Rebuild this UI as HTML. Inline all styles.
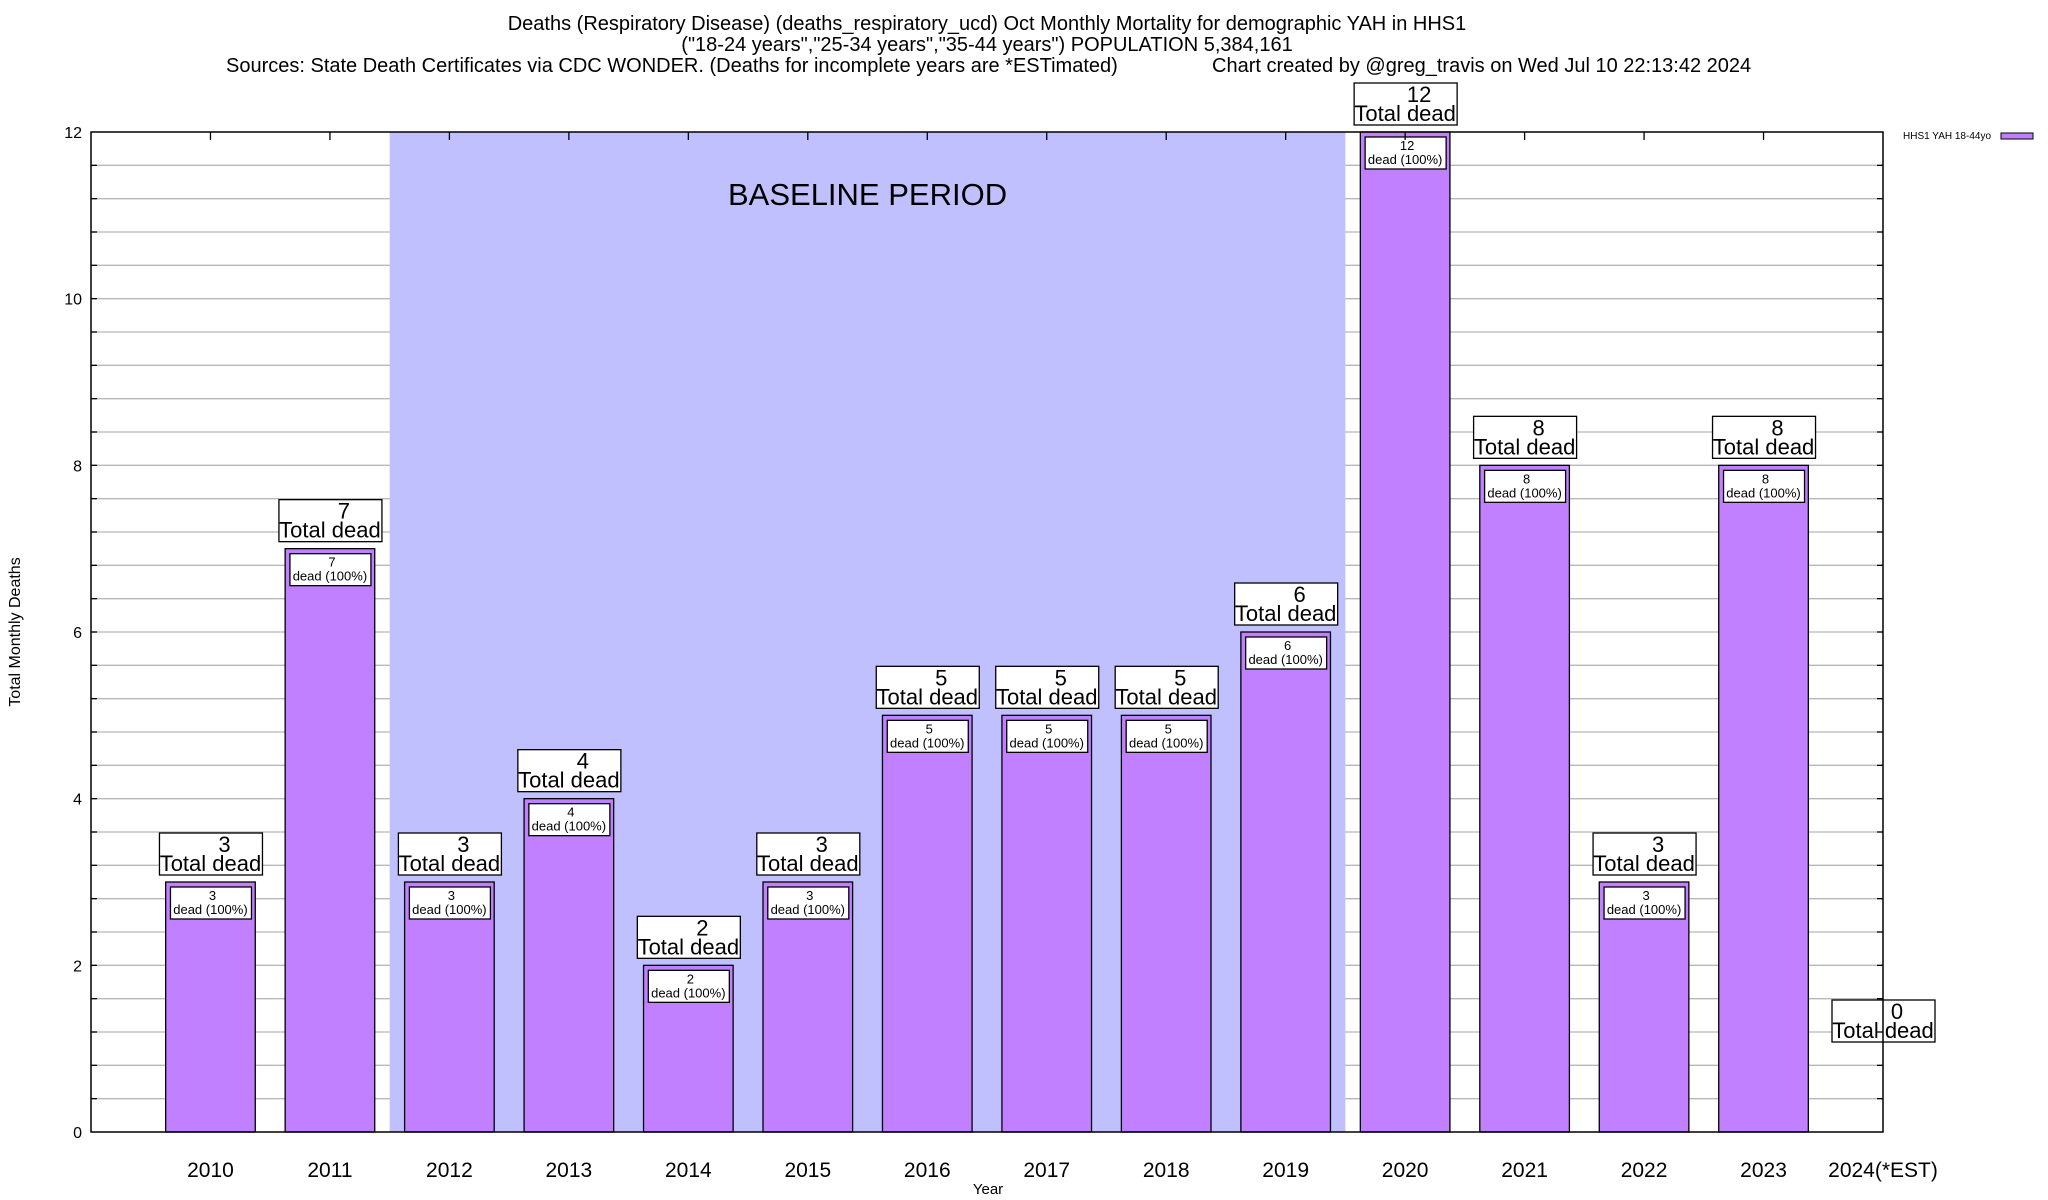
<!DOCTYPE html>
<html><head><meta charset="utf-8"><style>
html,body{margin:0;padding:0;background:#fff}
svg{display:block;font-family:"Liberation Sans",sans-serif}
</style></head><body>
<svg id="chart" width="2048" height="1200" viewBox="0 0 2048 1200" xmlns="http://www.w3.org/2000/svg">
<g font-size="20" text-anchor="middle" fill="#000">
<text x="987" y="30">Deaths (Respiratory Disease) (deaths_respiratory_ucd) Oct Monthly Mortality for demographic YAH in HHS1</text>
<text x="987" y="51">("18-24 years","25-34 years","35-44 years") POPULATION 5,384,161</text>
<text x="226" y="72" text-anchor="start">Sources: State Death Certificates via CDC WONDER. (Deaths for incomplete years are *ESTimated)</text>
<text x="1212" y="72" text-anchor="start">Chart created by @greg_travis on Wed Jul 10 22:13:42 2024</text>
</g>
<g id="plot"></g>
<g>
<text x="1903" y="139" font-size="10">HHS1 YAH 18-44yo</text>
<rect x="2001" y="133" width="32" height="6" fill="#c080ff" stroke="#000" stroke-width="1"/>
</g>
<text x="20" y="632" font-size="16" text-anchor="middle" transform="rotate(-90 20 632)">Total Monthly Deaths</text>
<text x="988" y="1194" font-size="15" text-anchor="middle">Year</text>
</svg>
<script>
const categories = ["2010","2011","2012","2013","2014","2015","2016","2017","2018","2019","2020","2021","2022","2023","2024(*EST)"];
const deaths = [3,7,3,4,2,3,5,5,5,6,12,8,3,8,0];
const yTicks = [0,2,4,6,8,10,12];
const baselineStart = 2; // index 2012
const baselineEnd = 9;   // index 2019

const L=91, R=1883, T=132, B=1132, yMax=12;
const step=(R-L)/categories.length;
function xc(i){return L+step*(i+1);}
function ys(v){return B-(B-T)*v/yMax;}
const NS="http://www.w3.org/2000/svg";
const g=document.getElementById('plot');
function el(tag,attrs,parent){const e=document.createElementNS(NS,tag);for(const k in attrs)e.setAttribute(k,attrs[k]);(parent||g).appendChild(e);return e;}

const bx1=xc(baselineStart)-step/2, bx2=xc(baselineEnd)+step/2;

// gridlines
for(let v=0.4;v<yMax-0.01;v+=0.4){
  let gl=el('line',{x1:L,x2:R,y1:ys(v),y2:ys(v),stroke:'#b8b8b8','stroke-width':1.3});
  
  
}
let sh=el('rect',{x:bx1,y:T,width:bx2-bx1,height:B-T,fill:'#c0c0ff'});


let bt=el('text',{x:(bx1+bx2)/2,y:205,'font-size':31,'text-anchor':'middle'});
bt.textContent='BASELINE PERIOD';



// bars
const bw=step*0.75;
deaths.forEach((d,i)=>{
  const cx=xc(i), top=ys(d);
  if(d>0){
    let r=el('rect',{x:cx-bw/2,y:top,width:bw,height:B-top,fill:'#c080ff',stroke:'#000','stroke-width':1.3});
    
    
    let ib=el('rect',{x:cx-40,y:top+5,width:81,height:32,fill:'#fff',stroke:'#000','stroke-width':1.3});
    
    
    let t1=el('text',{x:cx+2,y:top+18,'font-size':13,'text-anchor':'middle'});t1.textContent=d;
    
    
    let t2=el('text',{x:cx,y:top+32,'font-size':13,'text-anchor':'middle'});t2.textContent='dead (100%)';
    
    
  }
  const bb = d>0 ? top-7 : ys(1.08);
  let ob=el('rect',{x:cx-51,y:bb-42,width:103,height:42,fill:'#fff',stroke:'#000','stroke-width':1.3});
  
  
  let o1=el('text',{x:cx+14,y:bb-23,'font-size':22,'text-anchor':'middle'});o1.textContent=d;
  
  
  let o2=el('text',{x:cx,y:bb-4,'font-size':22,'text-anchor':'middle'});o2.textContent='Total dead';
  
  
  let xl=el('text',{x:cx,y:1177,'font-size':21,'text-anchor':'middle'});xl.textContent=categories[i];
  
  
  if(i<categories.length-1){
    let tk=el('line',{x1:cx,x2:cx,y1:T,y2:T+8,stroke:'#000','stroke-width':1.3});
    
    
  }
});

// y ticks
for(let v=0.4;v<yMax-0.01;v+=0.4){
  let a=el('line',{x1:L,x2:L+6,y1:ys(v),y2:ys(v),stroke:'#000','stroke-width':1.3});
  
  
  let b=el('line',{x1:R-6,x2:R,y1:ys(v),y2:ys(v),stroke:'#000','stroke-width':1.3});
  
  
}
yTicks.forEach(v=>{
  let t=el('text',{x:82,y:ys(v)+6,'font-size':16,'text-anchor':'end'});t.textContent=v;
  
  
});
let fr=el('rect',{x:L,y:T,width:R-L,height:B-T,fill:'none',stroke:'#000','stroke-width':1.5});


</script>
</body></html>
